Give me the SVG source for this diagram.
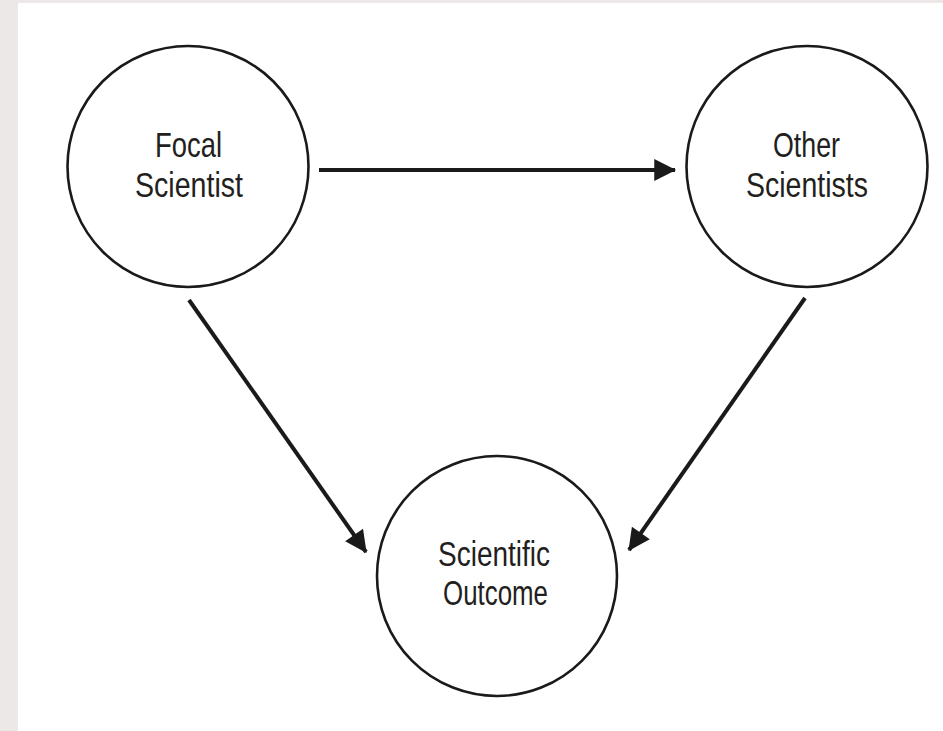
<svg xmlns="http://www.w3.org/2000/svg" width="943" height="731" viewBox="0 0 943 731">
<style>
.node circle { fill: #ffffff; stroke: #1a1a1a; stroke-width: 2.6; }
.node text { font-family: "Liberation Sans", Arial, sans-serif; font-size: 35px; fill: #231f20; text-anchor: middle; }
.conn line { stroke: #1a1a1a; stroke-width: 4; fill: none; }
</style>
<defs>
<marker id="arrow" markerUnits="userSpaceOnUse" markerWidth="24" markerHeight="24" viewBox="0 0 20 22" refX="19" refY="11" orient="auto">
<path d="M0,1 L20,11 L0,21 Z" fill="#1a1a1a"/>
</marker>
</defs>
<rect x="0" y="0" width="943" height="731" fill="#ffffff"/>
<rect x="0" y="0" width="18" height="731" fill="#ede8e8"/>
<rect x="0" y="0" width="943" height="3" fill="#ede8e8"/>
<g id="connectors" class="conn">
<line x1="319" y1="170" x2="675" y2="170" marker-end="url(#arrow)"/>
<line x1="189" y1="300" x2="366" y2="552" marker-end="url(#arrow)"/>
<line x1="805" y1="298" x2="629" y2="550" marker-end="url(#arrow)"/>
</g>
<g id="focal" class="node">
<circle cx="188" cy="166.5" r="120.5"/>
<text x="188.5" y="157" textLength="67" lengthAdjust="spacingAndGlyphs">Focal</text>
<text x="189" y="197" textLength="108" lengthAdjust="spacingAndGlyphs">Scientist</text>
</g>
<g id="other" class="node">
<circle cx="807" cy="166.5" r="120.5"/>
<text x="806.5" y="157" textLength="67" lengthAdjust="spacingAndGlyphs">Other</text>
<text x="807" y="197" textLength="122" lengthAdjust="spacingAndGlyphs">Scientists</text>
</g>
<g id="outcome" class="node">
<circle cx="497" cy="576" r="120"/>
<text x="494" y="566" textLength="112" lengthAdjust="spacingAndGlyphs">Scientific</text>
<text x="495.5" y="605" textLength="105" lengthAdjust="spacingAndGlyphs">Outcome</text>
</g>
</svg>
